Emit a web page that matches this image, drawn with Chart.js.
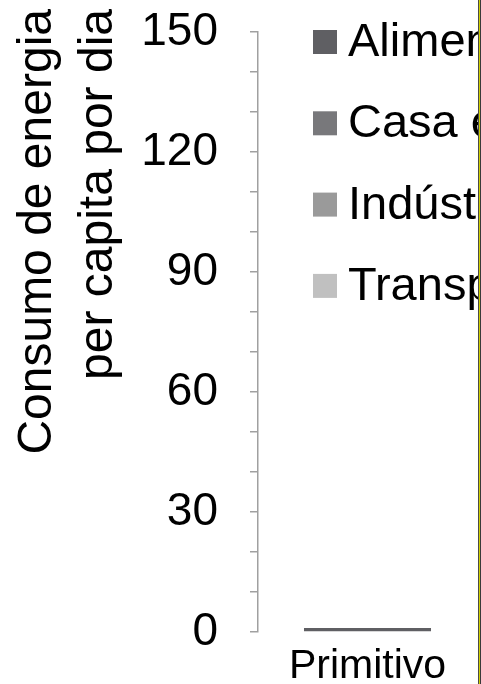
<!DOCTYPE html>
<html>
<head>
<meta charset="utf-8">
<script src="https://cdn.jsdelivr.net/npm/chart.js@4/dist/chart.umd.min.js"></script>
<style>
  html, body { margin: 0; padding: 0; background: #fff; }
  #wrap { position: relative; width: 481px; height: 684px; overflow: hidden; }
  #box { position: absolute; left: 0; top: 0; width: 478px; height: 684px; overflow: hidden; }
  .edge { position: absolute; top: 0; width: 1px; height: 684px; }
</style>
</head>
<body>
<div id="wrap">
  <div id="box"><canvas id="c" width="478" height="684"></canvas></div>
  <div class="edge" style="left:478px;background:#4a4a4a"></div>
  <div class="edge" style="left:479px;background:#d0d000"></div>
  <div class="edge" style="left:480px;background:#3a3a3a"></div>
</div>
<script>
// Energy consumption per capita per day, by use
const categories = ['Primitivo'];
const seriesNames = ['Alimentos', 'Casa e comércio', 'Indústria e agricultura', 'Transporte'];
const alimentos = [1];
const casa = [0];
const industria = [0];
const transporte = [0];
const seriesColors = ['#5f5f63', '#78787b', '#9a9a9a', '#c0c0c0'];
const yTickLabels = [0, 30, 60, 90, 120, 150];
const axisTitle = ['Consumo de energia', 'per capita por dia'];

const FONT = "'Liberation Sans', Arial, sans-serif";

// Two-line rotated axis title, ends of both lines flush at the top
const axisTitlePlugin = {
  id: 'axisTitle',
  afterDraw(chart) {
    const ctx = chart.ctx;
    ctx.save();
    ctx.fillStyle = '#000';
    ctx.font = '48px ' + FONT;
    ctx.textAlign = 'right';
    ctx.textBaseline = 'middle';
    const xs = [38, 99];
    axisTitle.forEach((line, i) => {
      ctx.save();
      ctx.translate(xs[i], 9);
      ctx.rotate(-Math.PI / 2);
      ctx.fillText(line, 0, 0);
      ctx.restore();
    });
    ctx.restore();
  }
};

// Legend laid over the plot, one entry per row
const overlayLegend = {
  id: 'overlayLegend',
  afterDraw(chart) {
    const ctx = chart.ctx;
    ctx.save();
    ctx.font = '47px ' + FONT;
    ctx.textBaseline = 'middle';
    ctx.textAlign = 'left';
    chart.data.datasets.forEach((ds, i) => {
      const cy = 42 + i * 81.3;
      ctx.fillStyle = ds.backgroundColor;
      ctx.fillRect(313, cy - 12, 24, 24);
      ctx.fillStyle = '#000';
      ctx.fillText(ds.label, 348, cy + 1);
    });
    ctx.restore();
  }
};

const values = [alimentos, casa, industria, transporte];

new Chart(document.getElementById('c'), {
  type: 'bar',
  data: {
    labels: categories,
    datasets: seriesNames.map((name, i) => ({
      label: name,
      data: values[i],
      backgroundColor: seriesColors[i],
      borderWidth: 0,
      categoryPercentage: 1,
      barPercentage: 0.58
    }))
  },
  options: {
    responsive: false,
    animation: false,
    devicePixelRatio: 1,
    layout: { padding: { top: 0, right: 1, left: 0, bottom: 0 } },
    plugins: {
      legend: { display: false },
      tooltip: { enabled: false }
    },
    scales: {
      x: {
        stacked: true,
        grid: { display: false },
        border: { display: false },
        ticks: { color: '#000', font: { family: FONT, size: 41 }, padding: 2 },
        afterFit(scale) { scale.height = 52; }
      },
      y: {
        stacked: true,
        min: 0,
        max: 150,
        border: { display: true, color: '#a0a0a0', width: 1.5 },
        grid: { drawOnChartArea: false, drawTicks: true, tickLength: 8, color: '#a0a0a0', lineWidth: 1.5 },
        ticks: {
          stepSize: 10,
          autoSkip: false,
          color: '#000',
          padding: 32,
          font: { family: FONT, size: 46, lineHeight: 0.01 },
          callback: (v) => (yTickLabels.includes(v) ? String(v) : '')
        },
        afterFit(scale) { scale.width = 258; }
      }
    }
  },
  plugins: [axisTitlePlugin, overlayLegend]
});
</script>
</body>
</html>
